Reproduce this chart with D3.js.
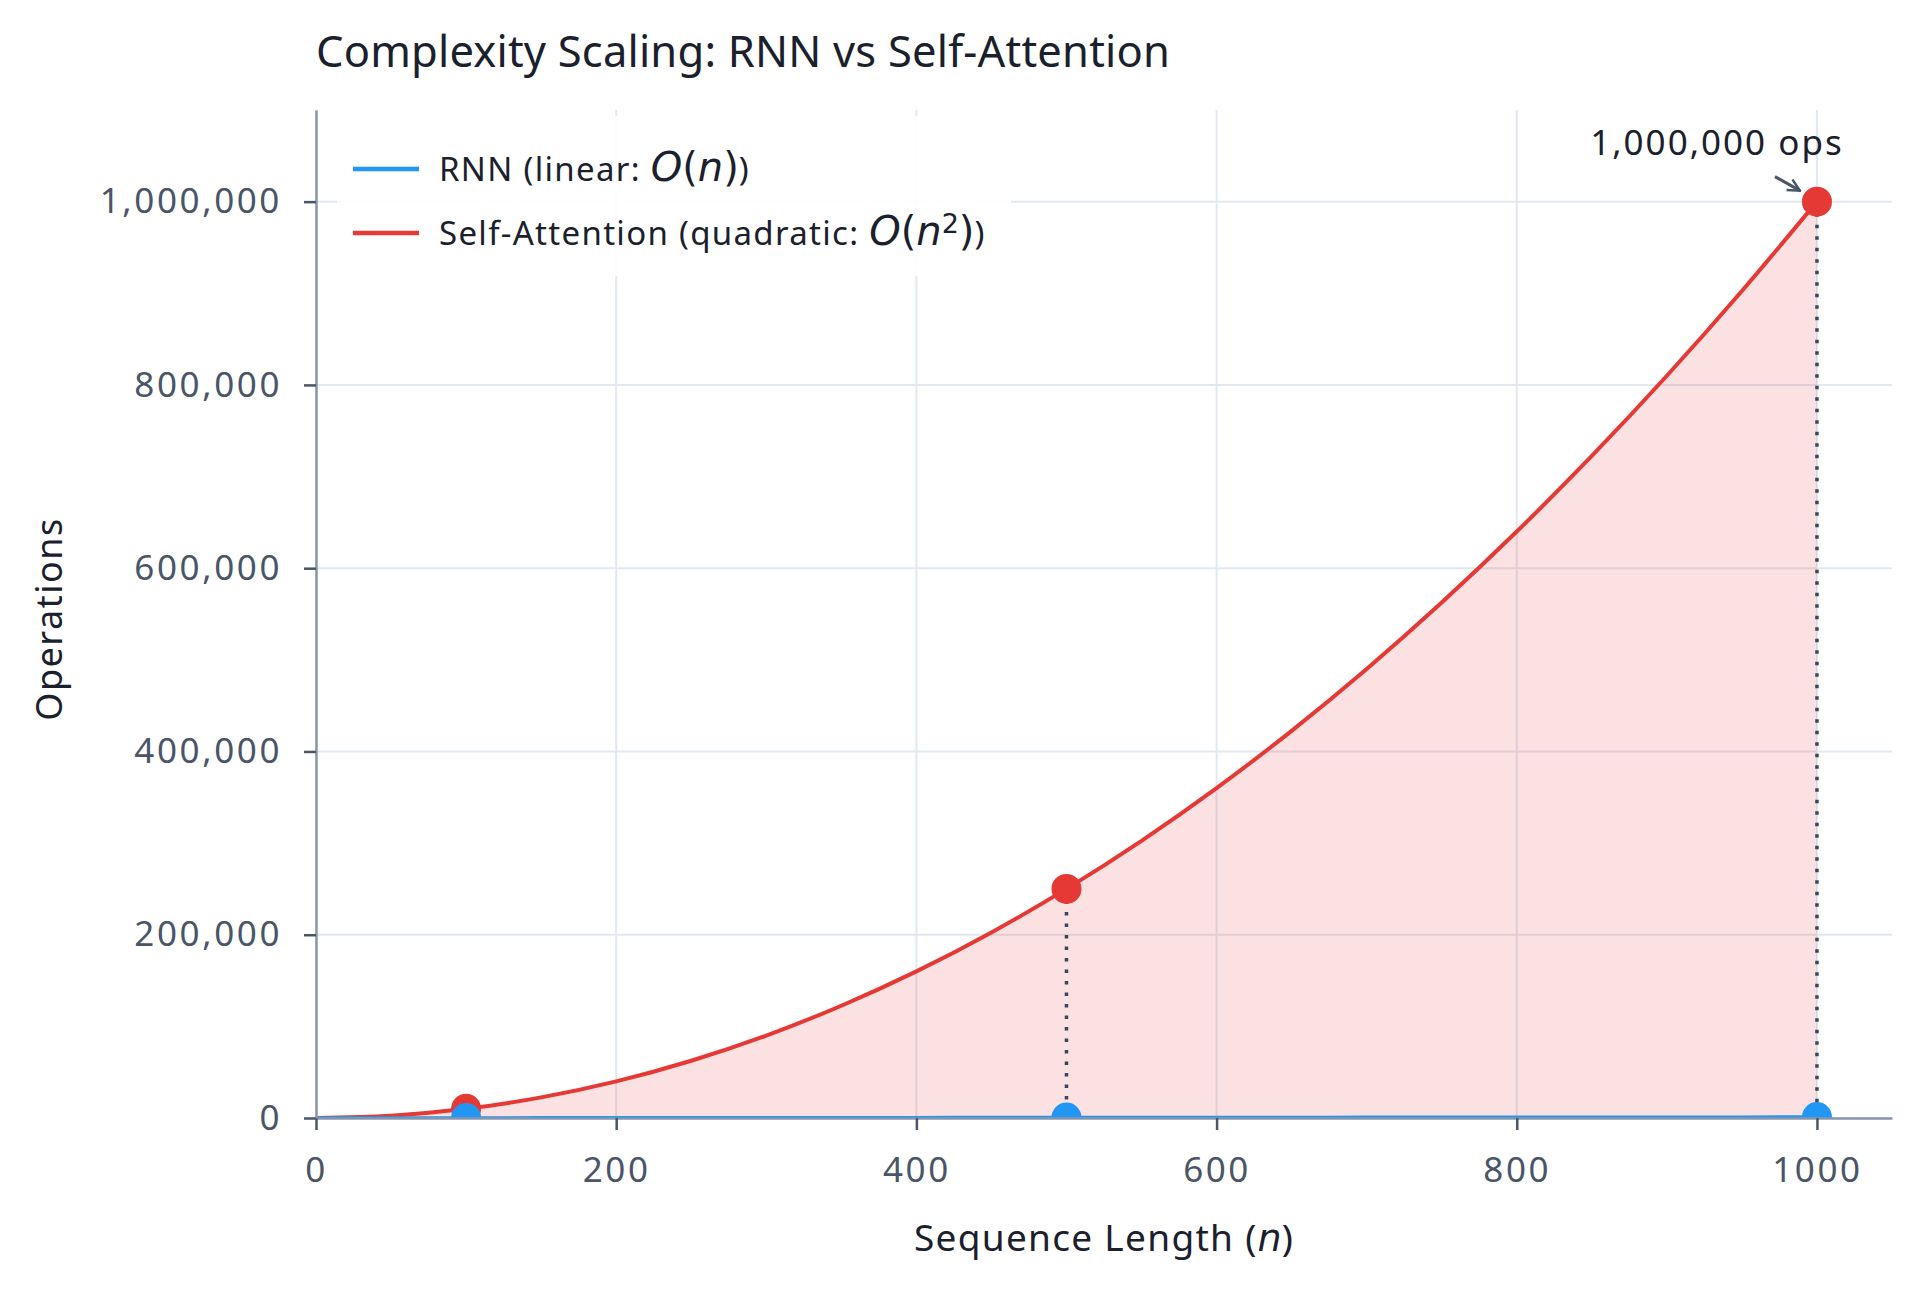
<!DOCTYPE html>
<html>
<head>
<meta charset="utf-8">
<script src="https://cdn.jsdelivr.net/npm/d3@7"></script>
<style>
  body { margin: 0; background: #fff; }
  svg { display: block; }
</style>
</head>
<body>
<div id="chart"></div>
<script>
// data
const seqLen = [0, 50, 100, 150, 200, 250, 300, 350, 400, 450, 500, 550, 600, 650, 700, 750, 800, 850, 900, 950, 1000]
const rnnOps = [0, 50, 100, 150, 200, 250, 300, 350, 400, 450, 500, 550, 600, 650, 700, 750, 800, 850, 900, 950, 1000]
const attnOps = [0, 2500, 10000, 22500, 40000, 62500, 90000, 122500, 160000, 202500, 250000,
  302500, 360000, 422500, 490000, 562500, 640000, 722500, 810000, 902500, 1000000]
const markN = [100, 500, 1000]
const markRnn = [100, 500, 1000]
const markAttn = [10000, 250000, 1000000]
const xTicks = [0, 200, 400, 600, 800, 1000]
const yTicks = [0, 200000, 400000, 600000, 800000, 1000000]

const margin = {top: 110, right: 28, bottom: 174, left: 316},
    W = 1920, H = 1292,
    width = W - margin.left - margin.right,
    height = H - margin.top - margin.bottom;

const RED = '#e53935', BLUE = '#2196f3', DARK = '#1a202c', MID = '#4a5568'
const FONT = '"Noto Sans", sans-serif'
const MATH = '"DejaVu Sans", sans-serif'

const svg = d3.select('#chart').append('svg')
    .attr('width', W)
    .attr('height', H)
    .style('font-family', FONT)

const g = svg.append('g')
    .attr('transform', `translate(${margin.left},${margin.top})`)

const x = d3.scaleLinear().domain([0, 1050]).range([0, width])
const y = d3.scaleLinear().domain([0, 1100000]).range([height, 0])

// grid
g.append('g').selectAll('line').data(xTicks).join('line')
    .attr('x1', d => x(d)).attr('x2', d => x(d))
    .attr('y1', 0).attr('y2', height)
    .attr('stroke', '#e2e8f0').attr('stroke-width', 2)
g.append('g').selectAll('line').data(yTicks).join('line')
    .attr('x1', 0).attr('x2', width)
    .attr('y1', d => y(d)).attr('y2', d => y(d))
    .attr('stroke', '#e2e8f0').attr('stroke-width', 2)

svg.append('clipPath').attr('id', 'plot')
  .append('rect').attr('width', width).attr('height', height)

const plot = g.append('g').attr('clip-path', 'url(#plot)')

const attn = seqLen.map((n, i) => ({n: n, v: attnOps[i]}))
const rnn = seqLen.map((n, i) => ({n: n, v: rnnOps[i]}))

plot.append('path').datum(attn)
    .attr('fill', RED).attr('fill-opacity', 0.15)
    .attr('d', d3.area().x(d => x(d.n)).y0(y(0)).y1(d => y(d.v)).curve(d3.curveMonotoneX))
plot.append('path').datum(rnn)
    .attr('fill', BLUE).attr('fill-opacity', 0.15)
    .attr('d', d3.area().x(d => x(d.n)).y0(y(0)).y1(d => y(d.v)).curve(d3.curveMonotoneX))

// dotted connectors
plot.append('g').selectAll('line').data(markN.slice(1)).join('line')
    .attr('x1', d => x(d)).attr('x2', d => x(d))
    .attr('y1', (d, i) => y(markAttn[i + 1])).attr('y2', (d, i) => y(markRnn[i + 1]))
    .attr('stroke', '#3d4656').attr('stroke-width', 3.5)
    .attr('stroke-dasharray', '3.5 8')

plot.append('path').datum(attn)
    .attr('fill', 'none').attr('stroke', RED).attr('stroke-width', 4)
    .attr('d', d3.line().x(d => x(d.n)).y(d => y(d.v)).curve(d3.curveMonotoneX))
plot.append('path').datum(rnn)
    .attr('fill', 'none').attr('stroke', BLUE).attr('stroke-width', 3.5)
    .attr('d', d3.line().x(d => x(d.n)).y(d => y(d.v)).curve(d3.curveMonotoneX))

plot.append('g').selectAll('circle').data(markN).join('circle')
    .attr('cx', d => x(d)).attr('cy', (d, i) => y(markAttn[i]))
    .attr('r', 15).attr('fill', RED)
plot.append('g').selectAll('circle').data(markN).join('circle')
    .attr('cx', d => x(d)).attr('cy', (d, i) => y(markRnn[i]))
    .attr('r', 15).attr('fill', BLUE)

// axes
const xAxis = g.append('g')
    .attr('transform', `translate(0,${height})`)
    .call(d3.axisBottom(x).tickValues(xTicks).tickFormat(d3.format('d'))
      .tickSize(12).tickPadding(27).tickSizeOuter(0))
const yAxis = g.append('g')
    .call(d3.axisLeft(y).tickValues(yTicks).tickFormat(d3.format(','))
      .tickSize(12).tickPadding(22).tickSizeOuter(0))

for (const ax of [xAxis, yAxis]) {
  ax.select('.domain').attr('stroke', '#8796ad').attr('stroke-width', 2.5)
  ax.selectAll('.tick line').attr('stroke', MID).attr('stroke-width', 2.5)
  ax.selectAll('.tick text')
    .attr('fill', MID)
    .style('font-family', FONT)
    .style('font-size', '35px')
    .style('letter-spacing', '2.6px')
}

// legend
const leg = g.append('g').attr('transform', 'translate(21, 6)')
leg.append('rect')
    .attr('width', 674).attr('height', 160).attr('rx', 6)
    .attr('fill', '#fff').attr('fill-opacity', 0.9)

function mathText(sel, parts, size) {
  for (const p of parts) {
    const t = sel.append('tspan').text(p.t)
    if (p.m) t.style('font-family', MATH).style('font-size', size + 'px').style('letter-spacing', '0px')
    if (p.i) t.style('font-style', 'italic')
    if (p.sup) t.attr('baseline-shift', '45%').style('font-size', '27px')
  }
}

const legendItems = [
  {color: BLUE, y: 53, parts: [{t: 'RNN (linear: '}, {t: 'O', m: 1, i: 1}, {t: '(', m: 1}, {t: 'n', m: 1, i: 1}, {t: ')', m: 1}, {t: ')'}]},
  {color: RED, y: 117, parts: [{t: 'Self-Attention (quadratic: '}, {t: 'O', m: 1, i: 1}, {t: '(', m: 1}, {t: 'n', m: 1, i: 1},
    {t: '2', m: 1, sup: 1}, {t: ')', m: 1}, {t: ')'}]}
]
for (const it of legendItems) {
  leg.append('line')
      .attr('x1', 16).attr('x2', 82).attr('y1', it.y).attr('y2', it.y)
      .attr('stroke', it.color).attr('stroke-width', 4.5)
  const t = leg.append('text')
      .attr('x', 102).attr('y', it.y).attr('dy', '0.35em')
      .attr('fill', DARK).style('font-size', '33px').style('letter-spacing', '1.3px')
  mathText(t, it.parts, 40)
}

// annotation
svg.append('defs').append('marker')
    .attr('id', 'arrow').attr('viewBox', '0 0 10 10')
    .attr('refX', 9).attr('refY', 5)
    .attr('markerWidth', 5).attr('markerHeight', 5)
    .attr('orient', 'auto')
  .append('path').attr('d', 'M1,1 L9,5 L1,9')
    .attr('fill', 'none').attr('stroke', MID).attr('stroke-width', 1.6)

g.append('line')
    .attr('x1', x(1000) - 42).attr('y1', y(1000000) - 25)
    .attr('x2', x(1000) - 17).attr('y2', y(1000000) - 11)
    .attr('stroke', MID).attr('stroke-width', 3)
    .attr('marker-end', 'url(#arrow)')
g.append('text')
    .attr('x', x(1000) - 100).attr('y', y(1000000) - 47)
    .attr('text-anchor', 'middle')
    .attr('fill', DARK).style('font-size', '35px').style('letter-spacing', '2px')
    .text(d3.format(',')(markAttn[2]) + ' ops')

// titles
svg.append('text')
    .attr('x', margin.left).attr('y', 67)
    .attr('fill', DARK).style('font-size', '43.5px').style('letter-spacing', '0.2px')
    .text('Complexity Scaling: RNN vs Self-Attention')

const xl = svg.append('text')
    .attr('x', margin.left + width / 2).attr('y', 1251)
    .attr('text-anchor', 'middle')
    .attr('fill', DARK).style('font-size', '37px').style('letter-spacing', '1.3px')
mathText(xl, [{t: 'Sequence Length ('}, {t: 'n', m: 1, i: 1}, {t: ')'}], 38)

svg.append('text')
    .attr('transform', `translate(62,${margin.top + height / 2 + 5}) rotate(-90)`)
    .attr('text-anchor', 'middle')
    .attr('fill', DARK).style('font-size', '36px').style('letter-spacing', '1.5px')
    .text('Operations')
</script>
</body>
</html>
